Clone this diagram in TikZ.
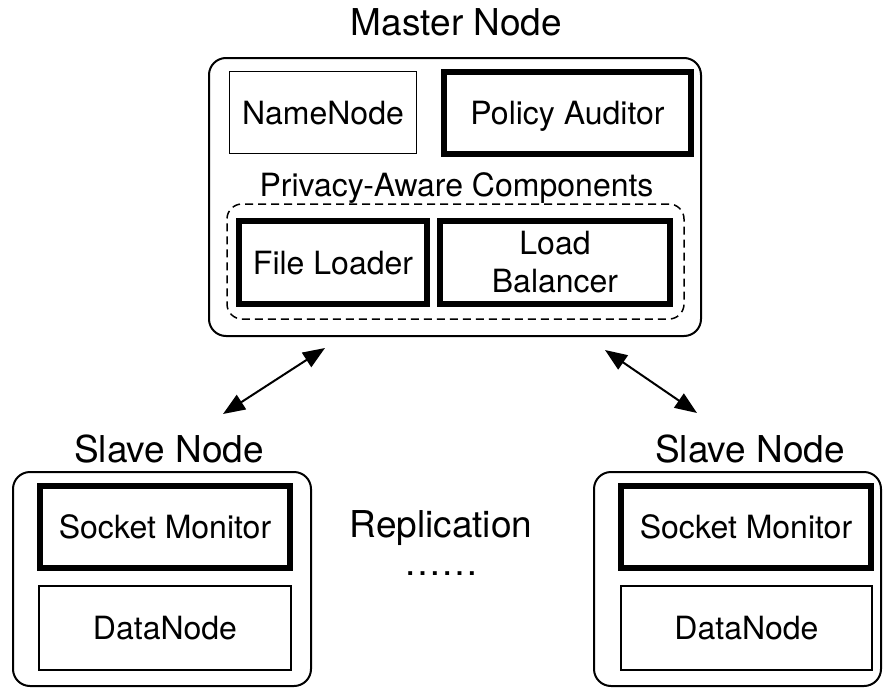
\documentclass[tikz,border=0pt]{standalone}
\usepackage{fontspec}
\setmainfont{TeX Gyre Heros}
\usetikzlibrary{arrows.meta}
\begin{document}
\begin{tikzpicture}[x=1pt,y=-1pt,
  titlefont/.style={font=\fontsize{37}{44}\selectfont},
  boxfont/.style={font=\fontsize{32}{38}\selectfont},
  outerbox/.style={draw, rounded corners=17pt, line width=2pt, inner sep=0pt},
  thinbox/.style={draw, line width=1.5pt, inner sep=0pt, boxfont, text height=23pt, text depth=0pt},
  thickbox/.style={draw, line width=6pt, inner sep=0pt, boxfont, text height=23pt, text depth=0pt},
  groupbox/.style={draw, dashed, dash pattern=on 8pt off 5pt, rounded corners=15pt, line width=1.5pt, inner sep=0pt},
  link/.style={line width=2pt, {Triangle[length=22pt,width=17pt]}-{Triangle[length=22pt,width=17pt]}}
]
\useasboundingbox (0,0) rectangle (884,688);
% Master
\node[titlefont, anchor=base] (mtitle) at (456.5,35) {Master Node};
\node[outerbox, minimum width=492pt, minimum height=278pt] (master) at (455,197) {};
\node[thinbox, minimum width=187pt, minimum height=82pt] (namenode) at (323,112.5) {NameNode};
\node[thickbox, minimum width=247pt, minimum height=82pt] (policy) at (567.5,113) {Policy Auditor};
\node[boxfont, anchor=base] (ptitle) at (456.5,196) {Privacy-Aware Components};
\node[groupbox, minimum width=457pt, minimum height=115pt] (group) at (455.5,261.5) {};
\node[thickbox, minimum width=188pt, minimum height=83pt] (fileloader) at (333,262.5) {File Loader};
\node[draw, line width=6pt, inner sep=0pt, boxfont, align=center, minimum width=230pt, minimum height=83pt] (loadbal) at (555,262.5) {Load\\Balancer};
% Left slave
\node[titlefont, anchor=base] (ltitle) at (169,462) {Slave Node};
\node[outerbox, minimum width=298pt, minimum height=214pt] (lslave) at (162,579) {};
\node[thickbox, minimum width=250pt, minimum height=82pt] (lsock) at (165,527) {Socket Monitor};
\node[thinbox, minimum width=252pt, minimum height=84pt] (ldata) at (165,628) {DataNode};
% Right slave
\node[titlefont, anchor=base] (rtitle) at (750,462) {Slave Node};
\node[outerbox, minimum width=287pt, minimum height=214pt] (rslave) at (737.5,579) {};
\node[thickbox, minimum width=250pt, minimum height=82pt] (rsock) at (746,527) {Socket Monitor};
\node[thinbox, minimum width=251pt, minimum height=84pt] (rdata) at (746.5,628) {DataNode};
% Replication
\node[titlefont, anchor=base] (repl) at (441,537) {Replication};
\node[titlefont, anchor=base] (dots) at (441,575) {……};
% Arrows
\coordinate (la) at (325,348);
\coordinate (lb) at (223,414);
\coordinate (ra) at (605,350);
\coordinate (rb) at (697,413);
\draw[link] (la) -- (lb);
\draw[link] (ra) -- (rb);
\end{tikzpicture}
\end{document}
